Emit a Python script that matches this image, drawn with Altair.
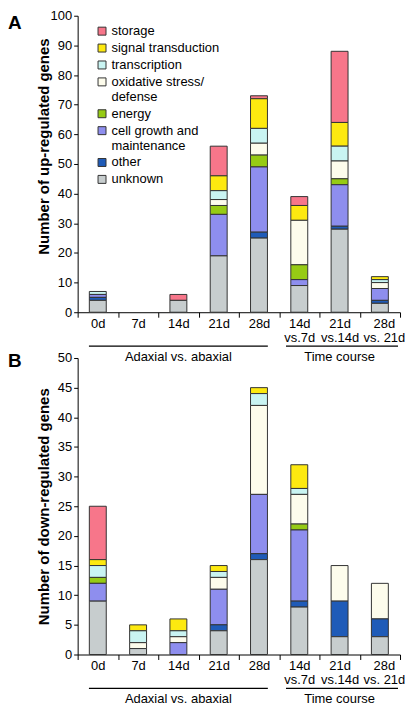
import altair as alt
import pandas as pd

categories = ["0d", "7d", "14d", "21d", "28d", "14d|vs.7d", "21d|vs.14d", "28d|vs. 21d"]
classes = ["storage", "signal transduction", "transcription", "oxidative stress/|defense",
           "energy", "cell growth and|maintenance", "other", "unknown"]
colors = ["#F7768A", "#FDE910", "#C9F4F2", "#FDFCEC", "#96CB14", "#8E8EEE", "#1F5BB8", "#C7CDCE"]

# Panel A: up-regulated genes (per class, per category)
up_storage       = [0, 0, 2, 10, 1, 3, 24, 0]
up_signal        = [0, 0, 0, 5, 10, 5, 8, 1]
up_transcription = [1, 0, 0, 3, 5, 0, 5, 1]
up_oxidative     = [0, 0, 0, 2, 4, 15, 6, 2]
up_energy        = [0, 0, 0, 3, 4, 5, 2, 0]
up_cellgrowth    = [1, 0, 0, 14, 22, 2, 14, 4]
up_other         = [1, 0, 0, 0, 2, 0, 1, 1]
up_unknown       = [4, 0, 4, 19, 25, 9, 28, 3]

# Panel B: down-regulated genes
down_storage       = [9, 0, 0, 0, 0, 0, 0, 0]
down_signal        = [1, 1, 2, 1, 1, 4, 0, 0]
down_transcription = [2, 2, 1, 1, 2, 1, 0, 0]
down_oxidative     = [0, 1, 1, 2, 15, 5, 6, 6]
down_energy        = [1, 0, 0, 0, 0, 1, 0, 0]
down_cellgrowth    = [3, 0, 2, 6, 10, 12, 0, 0]
down_other         = [0, 0, 0, 1, 1, 1, 6, 3]
down_unknown       = [9, 1, 0, 4, 16, 8, 3, 3]

group_names = ["Adaxial vs. abaxial", "Time course"]
group_start = ["0d", "14d|vs.7d"]
group_end = ["28d", "28d|vs. 21d"]
group_mid = ["14d", "21d|vs.14d"]

up_values = [up_storage, up_signal, up_transcription, up_oxidative,
             up_energy, up_cellgrowth, up_other, up_unknown]
down_values = [down_storage, down_signal, down_transcription, down_oxidative,
               down_energy, down_cellgrowth, down_other, down_unknown]

W, H = 324, 298
FONT = "Liberation Sans"


def build(values):
    rows = []
    for i, (cls, vals) in enumerate(zip(classes, values)):
        for cat, v in zip(categories, vals):
            if v > 0:
                rows.append({"cat": cat, "cls": cls, "n": v, "ord": len(classes) - i})
    return pd.DataFrame(rows)


def xenc(field="cat", band=None):
    kw = {}
    if band is not None:
        kw["bandPosition"] = band
    return alt.X(
        f"{field}:N", sort=categories,
        scale=alt.Scale(domain=categories, paddingInner=0, paddingOuter=0),
        axis=alt.Axis(title=None, labelExpr="split(datum.label, '|')", labelAngle=0,
                      tickBand="extent", tickSize=5, labelPadding=0,
                      labelLineHeight=14, labelFontSize=13,
                      labelOffset={"condition": {"test": "datum.value == '28d|vs. 21d'",
                                                 "value": 4}, "value": 0}),
        **kw)


def panel(values, ymax, ystep, title, title_y, letter, letter_y, show_legend):
    df = build(values)
    if show_legend:
        legend = alt.Legend(title=None, orient="none", legendX=18, legendY=9,
                            symbolType="square", symbolSize=64,
                            symbolStrokeColor="#333333", symbolStrokeWidth=1,
                            labelFontSize=13, labelExpr="split(datum.label, '|')",
                            rowPadding=3, labelOffset=3, padding=0)
    else:
        legend = None
    bars = alt.Chart(df).mark_bar(size=17, stroke="#333333", strokeWidth=1).encode(
        x=xenc(),
        y=alt.Y("n:Q", stack="zero",
                scale=alt.Scale(domain=[0, ymax], nice=False),
                axis=alt.Axis(title=title, values=list(range(0, ymax + 1, ystep)),
                              tickSize=4, labelPadding=2, labelFontSize=13,
                              titleFontSize=15, titleFontWeight="bold",
                              titleX=-34, titleY=title_y, titleAngle=270,
                              titleAlign="center", titleBaseline="middle")),
        color=alt.Color("cls:N", scale=alt.Scale(domain=classes, range=colors), legend=legend),
        order=alt.Order("ord:Q", sort="ascending"),
    )
    layers = [bars]
    bands = [(0.28, 0.72), (0.17, 0.95)]
    for i in range(len(group_names)):
        gdf = pd.DataFrame({"cat": [group_start[i]], "cat_end": [group_end[i]]})
        rule = alt.Chart(gdf).mark_rule(color="#000000", strokeWidth=1.3).encode(
            x=xenc(band=bands[i][0]),
            x2=alt.X2("cat_end", bandPosition=bands[i][1]),
            y=alt.value(H + 34),
        )
        layers.append(rule)
    tdf = pd.DataFrame({"cat": group_mid, "label": group_names})
    gtext = alt.Chart(tdf).mark_text(fontSize=13, baseline="middle", align="center",
                                     color="#000000").encode(
        x=xenc(), y=alt.value(H + 45), text="label:N")
    layers.append(gtext)
    let = alt.Chart(pd.DataFrame({"t": [letter]})).mark_text(
        fontSize=19, fontWeight="bold", align="left", baseline="middle",
        color="#000000").encode(text="t:N", x=alt.value(-70), y=alt.value(letter_y))
    layers.append(let)
    return alt.layer(*layers).properties(width=W, height=H)


panel_a = panel(up_values, 100, 10, "Number of up-regulated genes", 131, "A", 7, True)
panel_b = panel(down_values, 50, 5, "Number of down-regulated genes", H / 2, "B", 3, False)

chart = alt.vconcat(panel_a, panel_b, spacing=46, bounds="flush").resolve_legend(
    color="independent"
).configure(
    font=FONT, padding={"top": 0, "left": 0, "right": 0, "bottom": 0}
).configure_view(stroke=None).configure_axis(
    grid=False, domainColor="#000000", tickColor="#000000", labelColor="#000000",
    titleColor="#000000", labelFont=FONT, titleFont=FONT
).configure_legend(labelFont=FONT, labelColor="#000000")

chart.save("out.html", embed_options={"renderer": "svg", "actions": False})
